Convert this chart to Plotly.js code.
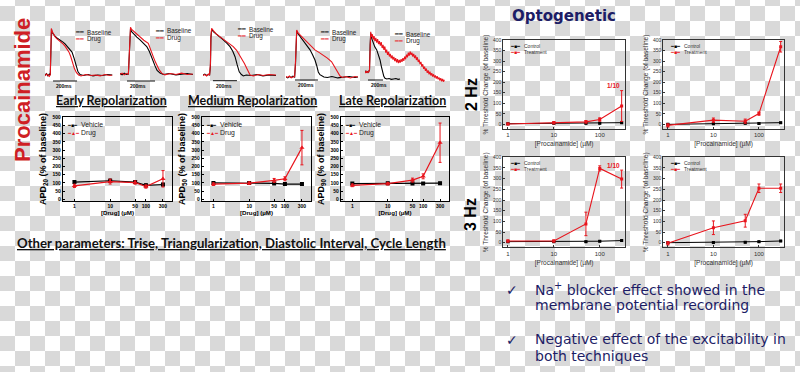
<!DOCTYPE html>
<html><head><meta charset="utf-8">
<script src="https://cdn.plot.ly/plotly-3.0.1.min.js"></script>
<style>
html,body{margin:0;padding:0;}
body{width:800px;height:372px;overflow:hidden;background-color:#fff;
background-image:repeating-conic-gradient(#d9d9d9 0 25%, #ffffff 0 50%);
background-size:30px 30px;background-position:0px -9px;}
#chart{width:800px;height:372px;}
</style></head><body><div id="chart"></div>
<script>
// ================= DATA =================
// Action-potential traces (t in ms, v in % of AP amplitude)
const base1_t = [0,12,24,36,44,48,54,60,70,83,100,125,150,167,192,210,225,242,258,275,292,320,360,400,440,480,520,560];
const base1_v = [0,3,-2,2,0,40,100,93,88,85,81,77,72,68,61,56,50,37,20,7,1,-1,1,-2,0,-1,1,0];
const drug1_t = [0,12,24,36,44,48,53,60,70,83,100,125,150,167,185,200,215,230,245,262,280,300,340,380,420,460,500,540,560];
const drug1_v = [-2,2,0,-3,1,50,102,95,90,84,79,74,68,63,57,50,40,27,14,5,0,-2,1,-1,0,-2,1,-1,0];

const base2_t = [0,15,30,45,60,68,75,83,100,120,143,170,191,210,226,240,250,265,286,310,350,400,440,480,520];
const base2_v = [1,-2,2,-1,0,45,100,94,88,82,76,68,61,50,36,25,18,8,2,-1,1,-2,0,1,-1];
const drug2_t = [0,15,30,45,60,68,75,83,100,120,143,170,202,220,238,252,265,280,298,320,360,400,440,480,520];
const drug2_v = [-1,2,-2,1,0,55,104,99,94,88,82,75,68,55,38,27,18,9,2,-2,1,-1,2,-1,0];

const base3_t = [0,15,30,45,55,62,66,72,86,110,140,169,200,225,248,267,285,302,320,336,360,400,450,500,550,608];
const base3_v = [0,2,-1,1,0,20,80,100,95,90,83,77,69,62,52,40,22,7,1,-2,0,-1,1,-2,0,-1];
const drug3_t = [0,15,30,45,55,62,66,72,86,110,140,170,197,225,252,280,300,322,345,364,380,392,420,460,500,550,608];
const drug3_v = [-1,1,-2,2,0,25,85,102,97,90,84,78,73,68,62,54,46,36,25,15,6,0,-2,1,-1,1,0];

const base4_t = [0,15,30,45,60,75,83,88,93,105,125,150,180,209,230,252,268,281,295,311,330,360,400,450,500,550,600,626];
const base4_v = [0,-2,1,-1,2,0,30,85,100,94,87,80,70,59,49,37,24,11,5,2,0,-1,1,-2,0,1,-1,0];
const drug4_t = [0,15,30,45,60,75,83,88,93,105,130,155,180,215,252,290,324,360,397,420,441,458,470,490,520,560,600,626];
const drug4_v = [1,-1,2,-2,0,1,35,90,102,96,89,83,77,68,59,53,48,41,33,24,15,7,2,-1,1,-2,1,0];

const base5_t = [0,10,20,30,40,50,60,68,76,90,110,130,156,180,200,218,235,250,266,290,320,350,380,410,440,466];
const base5_v = [0,3,-2,2,-1,1,5,70,100,86,74,65,57,45,31,14,-3,-11,-16,-18,-17,-19,-18,-17,-19,-18];
const drug5_t = [0,10,20,30,40,50,60,68,76,86,96,108,120,132,144,156,168,180,192,204,216,228,240,252,264,276,288,300,312,324,336,348,360,372,384,396,408,420,432,444,456,468,480,492,504,516,528,540,552,564,576,588,600,612,624,636,648,660,672,684,696,708,720,732,744,756,768,780,792,804,816,828,840,852,864,876,888,900,912,924,936,948,960,972,984,996,1008,1020,1032,1044,1056];
const drug5_v = [2,-3,3,-2,1,-1,6,75,104,90,98,84,93,80,88,76,85,72,80,68,77,62,70,57,66,50,58,44,52,40,47,35,43,32,39,28,36,25,33,23,31,24,33,26,36,29,40,33,45,38,50,42,53,44,50,40,47,36,43,31,38,26,32,20,26,14,20,8,14,3,9,-2,4,-6,1,-9,-3,-12,-6,-14,-9,-17,-11,-19,-14,-22,-16,-24,-18,-25,-20];

const traceSeriesNames = ['Baseline', 'Drug'];
const scaleBarMs = 200;
const scaleBarLabel = '200ms';

// APD dose-response
const panelTitles = ['Early Repolarization', 'Medium Repolarization', 'Late Repolarization'];
const apdLabels = ['APD<sub>20</sub> (% of baseline)', 'APD<sub>50</sub> (% of baseline)', 'APD<sub>90</sub> (% of baseline)'];
const apdSeriesNames = ['Vehicle', 'Drug'];
const drugDoses = [1, 10, 50, 100, 300];
const apd20_vehicle = [105, 113, 105, 85, 90];
const apd20_vehicle_err = [8, 10, 8, 8, 8];
const apd20_drug = [82, 108, 102, 78, 125];
const apd20_drug_err = [10, 15, 10, 10, 50];
const apd50_vehicle = [100, 100, 97, 93, 93];
const apd50_vehicle_err = [6, 6, 6, 6, 6];
const apd50_drug = [92, 98, 115, 125, 315];
const apd50_drug_err = [8, 8, 12, 12, 105];
const apd90_vehicle = [96, 98, 97, 96, 98];
const apd90_vehicle_err = [6, 6, 6, 6, 6];
const apd90_drug = [85, 95, 117, 140, 345];
const apd90_drug_err = [8, 8, 12, 15, 120];
const apdTickVals = [1, 10, 50, 100, 300];
const apdXLabel = '[Drug] (µM)';

// Optogenetic threshold
const optoSeriesNames = ['Control', 'Treatment'];
const procConc = [1, 10, 50, 100, 300];
const hz2a_control = [3, 5, 5, 5, 8];
const hz2a_treat = [2, 8, 12, 23, 87];
const hz2a_treat_err = [4, 5, 6, 8, 73];
const hz2b_control = [0, 3, 5, 4, 8];
const hz2b_treat = [-5, 20, 15, 51, 368];
const hz2b_treat_err = [8, 10, 10, 8, 25];
const hz3a_control = [5, 5, 5, 7, 10];
const hz3a_treat = [8, 8, 88, 348, 298];
const hz3a_treat_err = [5, 5, 55, 12, 42];
const hz3b_control = [0, 1, 2, 5, 8];
const hz3b_treat = [-3, 70, 103, 255, 255];
const hz3b_treat_err = [8, 32, 30, 20, 20];
const control_err = [3, 3, 3, 3, 3];
const optoTickVals = [1, 10, 100];
const optoXLabel = '[Procainamide] (µM)';
const optoYLabel = '% Threshold Change (of baseline)';
const rowLabels = ['2 Hz', '3 Hz'];
const fractionNote = '1/10';

// ================= LAYOUT HELPERS =================
const W = 800, H = 372;
const fx = p => p / W;
const fy = p => 1 - p / H;
const RED = '#e8141c';
const NAVY = '#1d1d66';
const FONT = 'Liberation Sans, Arial, sans-serif';

const layout = {
  width: W, height: H,
  margin: {l: 0, r: 0, t: 0, b: 0},
  paper_bgcolor: 'rgba(0,0,0,0)', plot_bgcolor: 'rgba(0,0,0,0)',
  showlegend: false,
  font: {family: FONT, color: '#000'},
  annotations: [], shapes: []
};
const data = [];
const axId = i => (i === 1 ? '' : String(i));

// ---------- Trace panels ----------
const traceSets = [
  [base1_t, base1_v, drug1_t, drug1_v],
  [base2_t, base2_v, drug2_t, drug2_v],
  [base3_t, base3_v, drug3_t, drug3_v],
  [base4_t, base4_v, drug4_t, drug4_v],
  [base5_t, base5_v, drug5_t, drug5_v]
];
const tracePanels = [
  {x0: 45, w: 70, mspp: 8.33, yBase: 75, yPeak: 29.3, bar: 67, barY: 81, legX: 73, legY: 32},
  {x0: 120, w: 73, mspp: 7.14, yBase: 74, yPeak: 29, bar: 50, barY: 81, legX: 153, legY: 30.7},
  {x0: 203, w: 73, mspp: 8.33, yBase: 75, yPeak: 29.3, bar: 83, barY: 80.7, legX: 235, legY: 29},
  {x0: 286, w: 72, mspp: 8.7, yBase: 77, yPeak: 31, bar: 78, barY: 80, legX: 318, legY: 32},
  {x0: 365, w: 80, mspp: 13.3, yBase: 72, yPeak: 33.3, bar: 40, barY: 80, legX: 392, legY: 34}
];
tracePanels.forEach((p, k) => {
  const i = k + 1;
  const vOf = y => (p.yBase - y) / (p.yBase - p.yPeak) * 100;
  layout['xaxis' + axId(i)] = {domain: [fx(p.x0), fx(p.x0 + p.w)], range: [0, p.w * p.mspp], visible: false, anchor: 'y' + axId(i)};
  layout['yaxis' + axId(i)] = {domain: [fy(86), fy(22)], range: [vOf(86), vOf(22)], visible: false, anchor: 'x' + axId(i)};
  const s = traceSets[k];
  data.push({x: s[0], y: s[1], type: 'scatter', mode: 'lines', name: traceSeriesNames[0], line: {color: '#000', width: 1.1}, xaxis: 'x' + axId(i), yaxis: 'y' + axId(i)});
  data.push({x: s[2], y: s[3], type: 'scatter', mode: 'lines', name: traceSeriesNames[1], line: {color: RED, width: 1.1}, xaxis: 'x' + axId(i), yaxis: 'y' + axId(i)});
  layout.shapes.push({type: 'line', xref: 'x' + axId(i), yref: 'paper', x0: p.bar, x1: p.bar + scaleBarMs, y0: fy(p.barY), y1: fy(p.barY), line: {color: '#111', width: 1}});
  layout.annotations.push({xref: 'x' + axId(i), yref: 'paper', x: p.bar + 10, y: fy(p.barY + 5), text: '<b>' + scaleBarLabel + '</b>', xanchor: 'left', font: {size: 5, color: '#111'}});
  [0, 1].forEach(j => {
    const yy = p.legY + j * 7;
    layout.annotations.push({x: fx(p.legX), y: fy(yy), text: '━━', xanchor: 'left', font: {size: 5.5, color: j ? RED : '#000'}});
    layout.annotations.push({x: fx(p.legX + 12), y: fy(yy), text: traceSeriesNames[j], xanchor: 'left', font: {size: 6.3, color: '#222'}});
  });
});

// ---------- APD plots ----------
const apdSets = [
  [apd20_vehicle, apd20_vehicle_err, apd20_drug, apd20_drug_err],
  [apd50_vehicle, apd50_vehicle_err, apd50_drug, apd50_drug_err],
  [apd90_vehicle, apd90_vehicle_err, apd90_drug, apd90_drug_err]
];
const apdPanels = [{x0: 63, x1: 172, tx: 111}, {x0: 202, x1: 311, tx: 253}, {x0: 341, x1: 449, tx: 392}];
apdPanels.forEach((p, k) => {
  const i = 6 + k;
  layout['xaxis' + i] = {
    domain: [fx(p.x0), fx(p.x1)], type: 'log', range: [-0.32, 2.73], anchor: 'y' + i,
    tickvals: apdTickVals, ticktext: apdTickVals.map(String), tickfont: {size: 5, weight: 'bold'},
    ticks: 'inside', ticklen: 2, tickcolor: '#000', showline: true, mirror: true, linecolor: '#000', linewidth: 1.2,
    showgrid: false, zeroline: false,
    title: {text: '<b>' + apdXLabel + '</b>', font: {size: 6.2}, standoff: 2}
  };
  layout['yaxis' + i] = {
    domain: [fy(200.6), fy(117.3)], range: [-8, 500], anchor: 'x' + i, dtick: 50,
    tickfont: {size: 5, weight: 'bold'}, ticks: 'inside', ticklen: 2, tickcolor: '#000',
    showline: true, mirror: true, linecolor: '#000', linewidth: 1.2, showgrid: false, zeroline: false,
    title: {text: '<b>' + apdLabels[k] + '</b>', font: {size: 9}, standoff: 4}
  };
  const s = apdSets[k];
  data.push({x: drugDoses, y: s[0], error_y: {type: 'data', array: s[1], color: '#000', thickness: 1, width: 1.5}, type: 'scatter', mode: 'lines+markers', name: apdSeriesNames[0],
    line: {color: '#000', width: 1.2}, marker: {symbol: 'square', size: 4, color: '#000'}, xaxis: 'x' + i, yaxis: 'y' + i});
  data.push({x: drugDoses, y: s[2], error_y: {type: 'data', array: s[3], color: RED, thickness: 1, width: 1.5}, type: 'scatter', mode: 'lines+markers', name: apdSeriesNames[1],
    line: {color: RED, width: 1.2}, marker: {symbol: 'triangle-up', size: 4.5, color: RED}, xaxis: 'x' + i, yaxis: 'y' + i});
  const syms = ['━■━', '━▲━'];
  [0, 1].forEach(j => {
    const yy = 124.5 + j * 8.3;
    layout.annotations.push({x: fx(p.x0 + 2), y: fy(yy), text: syms[j], xanchor: 'left', font: {size: 5, color: j ? RED : '#000'}});
    layout.annotations.push({x: fx(p.x0 + 16), y: fy(yy), text: apdSeriesNames[j], xanchor: 'left', font: {size: 6.8, color: '#222'}});
  });
  layout.annotations.push({x: fx(p.tx), y: fy(100), text: '<b>' + panelTitles[k] + '</b>',
    font: {family: 'Lato, sans-serif', size: 12.5, color: '#111', lineposition: 'under'}});
});

// ---------- Optogenetic plots ----------
const optoSets = [
  [hz2a_control, hz2a_treat, hz2a_treat_err],
  [hz2b_control, hz2b_treat, hz2b_treat_err],
  [hz3a_control, hz3a_treat, hz3a_treat_err],
  [hz3b_control, hz3b_treat, hz3b_treat_err]
];
const optoPanels = [
  {x0: 503.3, x1: 625, y0: 40, y1: 129},
  {x0: 663.3, x1: 784, y0: 40, y1: 129},
  {x0: 503.3, x1: 625, y0: 157.3, y1: 247.4},
  {x0: 663.3, x1: 784, y0: 157.3, y1: 247.4}
];
optoPanels.forEach((p, k) => {
  const i = 9 + k;
  layout['xaxis' + i] = {
    domain: [fx(p.x0), fx(p.x1)], type: 'log', range: [-0.1, 2.55], anchor: 'y' + i,
    tickvals: optoTickVals, ticktext: optoTickVals.map(String), tickfont: {size: 6, color: '#333'},
    ticks: 'inside', ticklen: 2, tickcolor: '#333', showline: true, mirror: true, linecolor: '#333', linewidth: 1,
    showgrid: false, zeroline: false,
    title: {text: optoXLabel, font: {size: 6.5, color: '#333'}, standoff: 4}
  };
  layout['yaxis' + i] = {
    domain: [fy(p.y1), fy(p.y0)], range: [-22, 400], anchor: 'x' + i, dtick: 50,
    tickfont: {size: 5, color: '#333'}, ticks: 'inside', ticklen: 2, tickcolor: '#333',
    showline: true, mirror: true, linecolor: '#333', linewidth: 1, showgrid: false, zeroline: false,
    title: {text: optoYLabel, font: {size: 6.6, color: '#333'}, standoff: 3}
  };
  const s = optoSets[k];
  data.push({x: procConc, y: s[0], error_y: {type: 'data', array: control_err, color: '#000', thickness: 1, width: 1.5}, type: 'scatter', mode: 'lines+markers', name: optoSeriesNames[0],
    line: {color: '#000', width: 1}, marker: {symbol: 'square', size: 3, color: '#000'}, xaxis: 'x' + i, yaxis: 'y' + i});
  data.push({x: procConc, y: s[1], error_y: {type: 'data', array: s[2], color: RED, thickness: 1, width: 1.5}, type: 'scatter', mode: 'lines+markers', name: optoSeriesNames[1],
    line: {color: RED, width: 1.1}, marker: {symbol: 'square', size: 3, color: RED}, xaxis: 'x' + i, yaxis: 'y' + i});
  [0, 1].forEach(j => {
    const yy = p.y0 + 5.5 + j * 6.5;
    layout.annotations.push({x: fx(p.x0 + 5), y: fy(yy), text: '━■━', xanchor: 'left', font: {size: 5, color: j ? RED : '#000'}});
    layout.annotations.push({x: fx(p.x0 + 19), y: fy(yy), text: optoSeriesNames[j], xanchor: 'left', font: {size: 5, color: '#333'}});
  });
});

// ---------- Text ----------
const A = layout.annotations;
A.push({x: fx(22), y: fy(90), text: '<b>Procainamide</b>', textangle: -90, font: {family: FONT, size: 22, color: '#cf1f25'}});
A.push({x: fx(15), y: fy(243), xanchor: 'left', text: '<b>Other parameters: Trise, Triangularization, Diastolic Interval, Cycle Length</b>',
  font: {family: 'Lato, sans-serif', size: 13.2, color: '#111', lineposition: 'under'}});
A.push({x: fx(564), y: fy(16), text: '<b>Optogenetic</b>', font: {family: 'DejaVu Sans, sans-serif', size: 15, color: NAVY}});
A.push({x: fx(471), y: fy(95), text: '<b>' + rowLabels[0] + '</b>', textangle: -90, font: {family: FONT, size: 16, color: '#000'}});
A.push({x: fx(470), y: fy(215), text: '<b>' + rowLabels[1] + '</b>', textangle: -90, font: {family: FONT, size: 16, color: '#000'}});
A.push({xref: 'x9', yref: 'y9', x: Math.log10(300), y: 185, text: '<b>' + fractionNote + '</b>', xanchor: 'right', font: {size: 6.5, color: RED}});
A.push({xref: 'x11', yref: 'y11', x: Math.log10(300), y: 360, text: '<b>' + fractionNote + '</b>', xanchor: 'right', font: {size: 6.5, color: RED}});

const bullets = [
  ['Na<sup>+</sup> blocker effect showed in the', 'membrane potential recording'],
  ['Negative effect of the excitability in', 'both techniques']
];
const bulletY = [[288.5, 305], [339, 356]];
bullets.forEach((b, k) => {
  A.push({x: fx(512), y: fy(bulletY[k][0] + 1), text: '✓', font: {family: 'DejaVu Sans, sans-serif', size: 14, color: NAVY}});
  b.forEach((line, j) => {
    A.push({x: fx(533), y: fy(bulletY[k][j]), xanchor: 'left', text: line, font: {family: 'DejaVu Sans, sans-serif', size: 14, color: NAVY}});
  });
});

// explicit anchoring for every annotation
A.forEach(a => {
  if (a.xref === undefined) a.xref = 'paper';
  if (a.yref === undefined) a.yref = 'paper';
  if (a.xanchor === undefined) a.xanchor = 'center';
  if (a.yanchor === undefined) a.yanchor = 'middle';
  a.showarrow = false;
});

Plotly.newPlot('chart', data, layout, {staticPlot: true, displayModeBar: false});
</script></body></html>
